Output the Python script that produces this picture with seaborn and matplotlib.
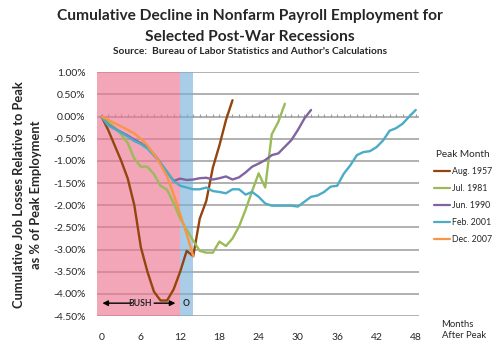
import numpy as np
import pandas as pd
import matplotlib
matplotlib.use("Agg")
import matplotlib.pyplot as plt
import seaborn as sns

# ---- data (cumulative % change from peak, by months after peak) ----
aug1957 = [0.0, -0.3, -0.65, -1.0, -1.4, -2.0, -2.95, -3.5, -3.95, -4.15, -4.15,
           -3.9, -3.5, -3.03, -3.15, -2.3, -1.9, -1.15, -0.65, -0.08, 0.37]
jul1981 = [0.0, -0.12, -0.25, -0.4, -0.6, -0.95, -1.13, -1.13, -1.3, -1.56, -1.65,
           -1.95, -2.3, -2.55, -2.8, -3.03, -3.07, -3.07, -2.82, -2.92, -2.75,
           -2.48, -2.1, -1.68, -1.28, -1.6, -0.4, -0.12, 0.29]
jun1990 = [0.0, -0.18, -0.27, -0.35, -0.43, -0.52, -0.6, -0.7, -0.85, -1.05, -1.25,
           -1.45, -1.4, -1.43, -1.42, -1.39, -1.38, -1.42, -1.39, -1.35, -1.42,
           -1.37, -1.26, -1.13, -1.06, -0.98, -0.87, -0.83, -0.68, -0.53, -0.3,
           -0.04, 0.15]
feb2001 = [0.0, -0.2, -0.28, -0.36, -0.45, -0.55, -0.62, -0.72, -0.88, -1.05, -1.25,
           -1.45, -1.56, -1.6, -1.64, -1.64, -1.6, -1.68, -1.7, -1.73, -1.64,
           -1.64, -1.76, -1.7, -1.81, -1.96, -2.01, -2.01, -2.01, -2.01, -2.03,
           -1.92, -1.81, -1.78, -1.7, -1.58, -1.56, -1.29, -1.1, -0.87, -0.8,
           -0.78, -0.69, -0.54, -0.32, -0.26, -0.16, 0.0, 0.15]
dec2007 = [0.0, -0.07, -0.15, -0.22, -0.3, -0.38, -0.5, -0.65, -0.85, -1.08,
           -1.35, -1.75, -2.2, -2.65, -3.15]

series_names = ["Aug. 1957", "Jul. 1981", "Jun. 1990", "Feb. 2001", "Dec. 2007"]
series_values = [aug1957, jul1981, jun1990, feb2001, dec2007]
colors = ["#94450F", "#9BBB59", "#8064A2", "#4BACC6", "#F79646"]

y_ticks = [1.0, 0.5, 0.0, -0.5, -1.0, -1.5, -2.0, -2.5, -3.0, -3.5, -4.0, -4.5]
x_ticks = [0, 6, 12, 18, 24, 30, 36, 42, 48]
bush_span = (-0.75, 12.0)
obama_span = (12.0, 13.95)

rows = []
for name, vals in zip(series_names, series_values):
    for m, v in enumerate(vals):
        rows.append({"month": m, "value": v, "Peak Month": name})
df = pd.DataFrame(rows)

sns.set_theme(style="white")
plt.rcParams["font.family"] = ["Lato", "DejaVu Sans"]

fig = plt.figure(figsize=(5, 3.5), dpi=100)
ax = fig.add_axes([0.1934, 0.0971, 0.8380 - 0.1934, 0.7934 - 0.0971])

for yv in y_ticks:
    ax.axhline(yv, color="#A3A3A3", lw=1.2, zorder=1)

# minor tick marks on the zero line
months_all = np.arange(0, 49)
ax.vlines(months_all, 0, 0.05, color="#9A9A9A", lw=0.8, zorder=1)

# translucent shaded periods (gridlines show through, as in the original)
ax.axvspan(*bush_span, facecolor="#ED7692", alpha=0.65, zorder=1.5, lw=0)
ax.axvspan(*obama_span, facecolor="#7BB2D9", alpha=0.65, zorder=1.5, lw=0)

sns.lineplot(data=df, x="month", y="value", hue="Peak Month",
             hue_order=series_names, palette=colors, linewidth=1.7,
             ax=ax, zorder=3, legend=False)

ax.set_xlim(-0.75, 48.5)
ax.set_ylim(-4.5, 1.0)
ax.set_yticks(y_ticks)
ax.set_yticklabels([f"{v:.2f}%" for v in y_ticks], fontsize=7.5)
ax.set_xticks(x_ticks)
ax.set_xticklabels([str(t) for t in x_ticks], fontsize=7.5)
ax.tick_params(axis="both", length=0, pad=8)
ax.tick_params(axis="x", pad=12)
for s in ax.spines.values():
    s.set_visible(False)
ax.set_xlabel("")
ax.set_ylabel("")

# BUSH / O annotation
ax.annotate("", xy=(-0.3, -4.21), xytext=(5.0, -4.21),
            arrowprops=dict(arrowstyle="-|>", color="black", lw=1.0,
                            mutation_scale=8), zorder=4)
ax.annotate("", xy=(11.7, -4.21), xytext=(7.6, -4.21),
            arrowprops=dict(arrowstyle="-|>", color="black", lw=1.0,
                            mutation_scale=8), zorder=4)
ax.text(5.9, -4.21, "BUSH", fontsize=6.2, fontweight="bold", ha="center",
        va="center", zorder=5)
ax.text(12.9, -4.21, "O", fontsize=6.2, fontweight="bold", ha="center",
        va="center", zorder=5)

# titles
fig.text(0.5, 0.955, "Cumulative Decline in Nonfarm Payroll Employment for",
         ha="center", va="center", fontsize=11.2, fontweight="bold")
fig.text(0.5, 0.893, "Selected Post-War Recessions",
         ha="center", va="center", fontsize=11.2, fontweight="bold")
fig.text(0.5, 0.852, "Source:  Bureau of Labor Statistics and Author's Calculations",
         ha="center", va="center", fontsize=7.3, fontweight="bold")

fig.text(0.055, 0.443, "Cumulative Job Losses Relative to Peak\nas % of Peak Employment",
         rotation=90, ha="center", va="center", fontsize=9.3, fontweight="bold",
         linespacing=1.45)

fig.text(0.883, 0.058, "Months\nAfter Peak", ha="left", va="center",
         fontsize=6.8, linespacing=1.3)

# legend
handles = [plt.Line2D([0], [0], color=c, lw=1.6) for c in colors]
leg = fig.legend(handles, series_names, title="Peak Month",
                 loc="center left", bbox_to_anchor=(0.868, 0.437),
                 borderaxespad=0, borderpad=0,
                 frameon=False, fontsize=6.3, title_fontsize=7.2,
                 handlelength=1.85, handletextpad=0.15, labelspacing=0.9)

fig.savefig("out.png", dpi=100)
